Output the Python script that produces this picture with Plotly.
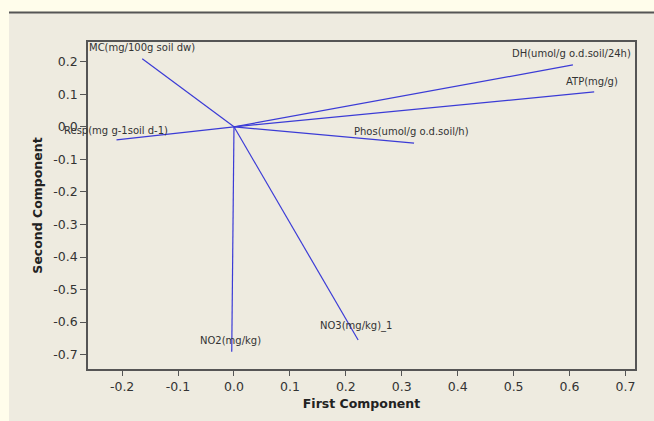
import plotly.graph_objects as go

# ---- data (loadings) ----
variables = ["MC(mg/100g soil dw)", "DH(umol/g o.d.soil/24h)", "ATP(mg/g)",
             "Phos(umol/g o.d.soil/h)", "Resp(mg g-1soil d-1)", "NO2(mg/kg)", "NO3(mg/kg)_1"]
pc1 = [-0.164, 0.606, 0.644, 0.322, -0.210, -0.004, 0.222]
pc2 = [0.209, 0.190, 0.107, -0.050, -0.040, -0.691, -0.655]

x_ticks = [-0.2, -0.1, 0.0, 0.1, 0.2, 0.3, 0.4, 0.5, 0.6, 0.7]
y_ticks = [0.2, 0.1, 0.0, -0.1, -0.2, -0.3, -0.4, -0.5, -0.6, -0.7]

# label placement (anchor point in data units and horizontal anchor)
label_x = [-0.263, 0.714, 0.590, 0.211, -0.308, -0.065, 0.150]
label_y = [0.245, 0.224, 0.139, -0.015, -0.010, -0.656, -0.613]
label_anchor = ["left", "right", "left", "left", "left", "left", "left"]

LINE = "#3b3bd6"
TXT = "#333333"
FONT = "DejaVu Sans"

X_RANGE = [-0.261, 0.717]
Y_RANGE = [-0.744, 0.2605]

xs, ys = [], []
for a, b in zip(pc1, pc2):
    xs += [0, a, None]
    ys += [0, b, None]

fig = go.Figure()
fig.add_trace(go.Scatter(x=xs, y=ys, mode="lines",
                         line=dict(color=LINE, width=1.2),
                         hoverinfo="skip", showlegend=False))


def to_paper(v, rng):
    return (v - rng[0]) / (rng[1] - rng[0])


for name, lx, ly, anc in zip(variables, label_x, label_y, label_anchor):
    fig.add_annotation(x=to_paper(lx, X_RANGE), y=to_paper(ly, Y_RANGE),
                       xref="paper", yref="paper", text=name, showarrow=False,
                       xanchor=anc, yanchor="middle",
                       font=dict(family=FONT, size=10, color=TXT))

W, H = 654, 421
L, R, T, B = 88, 19, 42, 52
pw, ph = W - L - R, H - T - B


def px_x(p):
    return (p - L) / pw


def px_y(p):
    return 1 - (p - T) / ph


# background panel and top rule
fig.add_shape(type="rect", xref="paper", yref="paper", layer="below",
              x0=px_x(9), x1=px_x(W + 5), y0=px_y(H + 5), y1=px_y(12),
              fillcolor="#eeebe0", line=dict(width=0))
fig.add_shape(type="line", xref="paper", yref="paper", layer="below",
              x0=px_x(9), x1=px_x(W + 5), y0=px_y(12.5), y1=px_y(12.5),
              line=dict(color="#555555", width=2))

axis_common = dict(showgrid=False, zeroline=False, showline=True, mirror=True,
                   linecolor="#555555", linewidth=1.5, ticks="outside",
                   tickcolor="#555555", tickwidth=1,
                   tickfont=dict(family=FONT, size=12.5, color=TXT))

fig.update_layout(
    width=W, height=H,
    margin=dict(l=L, r=R, t=T, b=B, pad=0),
    paper_bgcolor="#fffdeb",
    plot_bgcolor="#ffffff",
    showlegend=False,
    xaxis=dict(range=X_RANGE, tickvals=x_ticks,
               ticktext=[f"{v:.1f}" for v in x_ticks], ticklen=5,
               title=dict(text="<b>First Component</b>", standoff=6,
                          font=dict(family=FONT, size=12.5, color="#222222")),
               **axis_common),
    yaxis=dict(range=Y_RANGE, tickvals=y_ticks,
               ticktext=[f"{v:.1f}" for v in y_ticks], ticklen=6,
               title=dict(text="<b>Second Component</b>", standoff=8,
                          font=dict(family=FONT, size=12.5, color="#222222")),
               **axis_common),
)

fig.write_html("out.html")
